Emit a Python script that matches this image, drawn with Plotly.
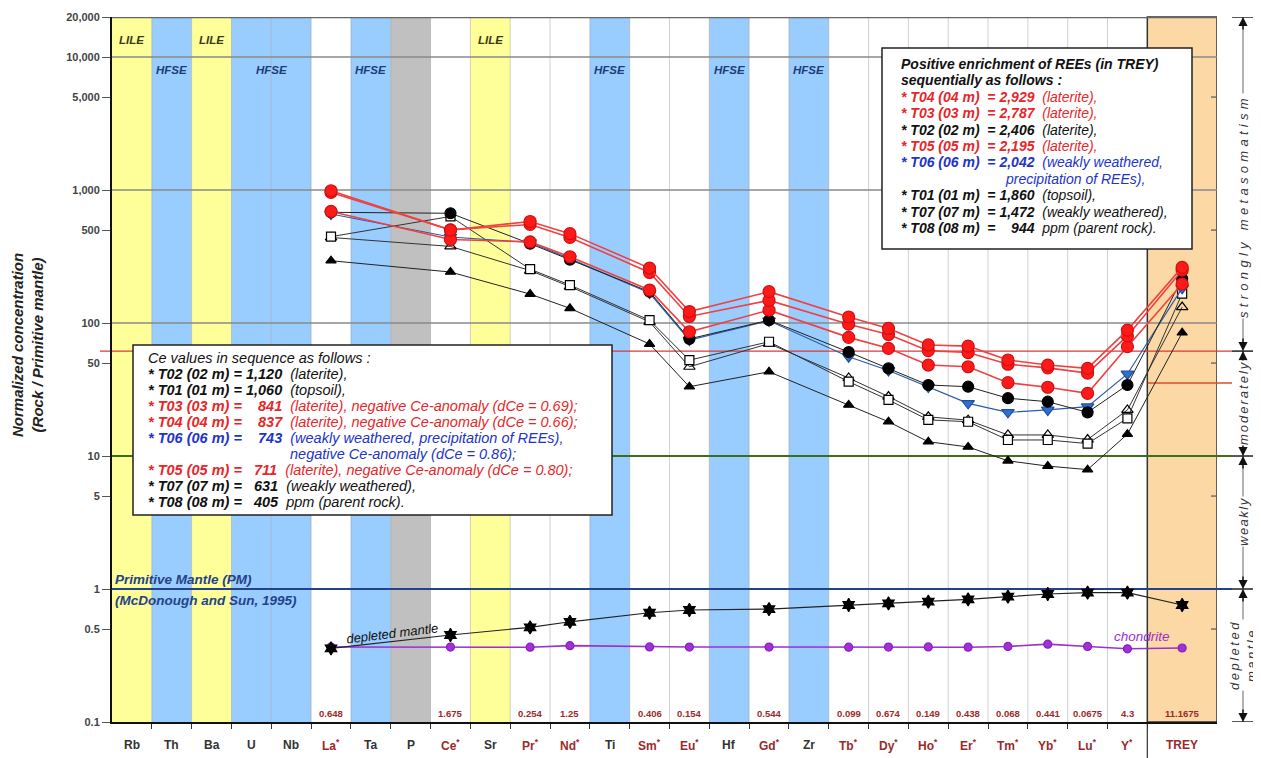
import numpy as np
import plotly.graph_objects as go

# ---------------- data ----------------
categories = ["Rb", "Th", "Ba", "U", "Nb", "La*", "Ta", "P", "Ce*", "Sr", "Pr*", "Nd*", "Ti",
              "Sm*", "Eu*", "Hf", "Gd*", "Zr", "Tb*", "Dy*", "Ho*", "Er*", "Tm*", "Yb*", "Lu*",
              "Y*", "TREY"]
col_kind = ["LILE", "HFSE", "LILE", "HFSE", "HFSE", "REE", "HFSE", "P", "REE", "LILE", "REE", "REE",
            "HFSE", "REE", "REE", "HFSE", "REE", "HFSE", "REE", "REE", "REE", "REE", "REE", "REE",
            "REE", "REE", "TOTAL"]
col_width = [1] * 26 + [1.75]

ree_labels = ["La*", "Ce*", "Pr*", "Nd*", "Sm*", "Eu*", "Gd*", "Tb*", "Dy*", "Ho*", "Er*", "Tm*",
              "Yb*", "Lu*", "Y*", "TREY"]
pm_norm = ["0.648", "1.675", "0.254", "1.25", "0.406", "0.154", "0.544", "0.099", "0.674", "0.149",
           "0.438", "0.068", "0.441", "0.0675", "4.3", "11.1675"]

# normalized (Rock / PM) values, order as ree_labels
T04 = [988, 500, 580, 470, 259, 122, 172, 111, 91, 68.4, 67, 52.7, 48.3, 45.6, 88.5, 262.3]
T03 = [960, 502, 551, 440, 240, 112, 148, 98, 82, 62, 60, 49, 46, 42, 80, 249.6]
T05 = [690, 424.5, 408, 315, 177, 86, 125, 78, 64.5, 48.3, 46.9, 35.6, 32.9, 29.6, 66.4, 196.6]
T02 = [680, 668.7, 395, 300, 172, 76, 105, 60.5, 45.6, 34.2, 33.2, 27.2, 25.6, 21.3, 34.2, 215.4]
T06 = [660, 443.6, 403, 305, 168, 74.5, 104, 55.8, 44, 33, 24.9, 21.3, 22.2, 23.5, 41.4, 182.9]
T01 = [446, 632.8, 254, 193, 105, 52.6, 72.3, 36.2, 26.4, 18.7, 18.1, 13.2, 13.2, 12.4, 19.2, 166.6]
T07 = [440, 376.7, 248, 188, 102, 46.9, 70, 38.6, 28, 19.7, 18.6, 14.4, 14.4, 13.3, 22.2, 131.8]
T08 = [294, 241.8, 165, 129, 69.5, 33.2, 43, 24.2, 18.1, 12.8, 11.7, 9.2, 8.4, 7.9, 14.6, 84.5]
depleted_mantle = [0.358, 0.451, 0.515, 0.567, 0.663, 0.695, 0.707, 0.758, 0.780, 0.803, 0.837,
                   0.875, 0.917, 0.938, 0.938, 0.758]
chondrite = [0.366, 0.366, 0.365, 0.375, 0.367, 0.366, 0.366, 0.365, 0.366, 0.367, 0.365, 0.37,
             0.385, 0.37, 0.355, 0.36]

y_tickvals = [0.1, 0.5, 1, 5, 10, 50, 100, 500, 1000, 5000, 10000, 20000]
y_ticktext = ["0.1", "0.5", "1", "5", "10", "50", "100", "500", "1,000", "5,000", "10,000", "20,000"]

zone_bounds = [20000, 61.5, 10, 1, 0.1]
moderate_low = 35.4

ce_box_lines = [
    ("|Ce values in sequence as follows :", "black", True),
    ("* T02 (02 m) = 1,120|  (laterite),", "black", True),
    ("* T01 (01 m) = 1,060|  (topsoil),", "black", True),
    ("* T03 (03 m) =    841|  (laterite), negative Ce-anomaly (dCe = 0.69);", "red", True),
    ("* T04 (04 m) =    837|  (laterite), negative Ce-anomaly (dCe = 0.66);", "red", True),
    ("* T06 (06 m) =    743|  (weakly weathered, precipitation of REEs),", "blue", True),
    ("|negative Ce-anomaly (dCe = 0.86);", "blue", "indent"),
    ("* T05 (05 m) =   711|  (laterite), negative Ce-anomaly (dCe = 0.80);", "red", True),
    ("* T07 (07 m) =   631|  (weakly weathered),", "black", True),
    ("* T08 (08 m) =   405|  ppm (parent rock).", "black", True),
]
trey_box_lines = [
    ("Positive enrichment of REEs (in TREY)|", "black", True),
    ("sequentially as follows :|", "black", True),
    ("* T04 (04 m)  = 2,929|  (laterite),", "red", True),
    ("* T03 (03 m)  = 2,787|  (laterite),", "red", True),
    ("* T02 (02 m)  = 2,406|  (laterite),", "black", True),
    ("* T05 (05 m)  = 2,195|  (laterite),", "red", True),
    ("* T06 (06 m)  = 2,042|  (weakly weathered,", "blue", True),
    ("|precipitation of REEs),", "blue", "indent"),
    ("* T01 (01 m)  = 1,860|  (topsoil),", "black", True),
    ("* T07 (07 m)  = 1,472|  (weakly weathered),", "black", True),
    ("* T08 (08 m)  =    944|  ppm (parent rock).", "black", True),
]

zone_text = ["strongly metasomatism", "moderately", "weakly", "depleted<br>mantle"]

# ---------------- styling ----------------
OFF = 8                      # page body margin
W, H = 1261 - OFF, 758 - OFF
L, R, T, B = 112, 1217, 17, 722   # plot-area edges in screenshot pixels
FONT = "Arial, Liberation Sans, sans-serif"
TXT = {"black": "#111111", "red": "#E8262A", "blue": "#2233C8"}
fills = {"LILE": "#FFFF99", "HFSE": "#99CCFF", "P": "#C0C0C0", "REE": None, "TOTAL": "#FBD8A4"}


def px(x):
    return (x - L) / (R - L)


def py(y):
    return (B - y) / (B - T)


edges = np.concatenate([[-0.5], -0.5 + np.cumsum(col_width)])
centers = (edges[:-1] + edges[1:]) / 2
cat_x = dict(zip(categories, centers))
ree_x = [cat_x[c] for c in ree_labels]

fig = go.Figure()
shapes = []
ann = []

# column backgrounds
for i, k in enumerate(col_kind):
    if fills[k]:
        shapes.append(dict(type="rect", xref="x", yref="paper", x0=edges[i], x1=edges[i + 1], y0=0, y1=1,
                           fillcolor=fills[k], line=dict(width=0), layer="below"))
# vertical grid lines at column boundaries
for e in edges[1:-2]:
    shapes.append(dict(type="line", xref="x", yref="paper", x0=e, x1=e, y0=0, y1=1,
                       line=dict(color="rgba(150,150,150,0.45)", width=1), layer="below"))
# TREY column frame
shapes.append(dict(type="rect", xref="x", yref="paper", x0=edges[-2], x1=edges[-1], y0=0, y1=1,
                   fillcolor="rgba(0,0,0,0)", line=dict(color="#333", width=1.5), layer="below"))
shapes.append(dict(type="line", xref="x", yref="paper", x0=edges[-2], x1=edges[-2], y0=0, y1=py(758),
                   line=dict(color="#333", width=1.2), layer="below"))
# horizontal grid lines
for v in [10000, 1000, 100]:
    shapes.append(dict(type="line", xref="paper", yref="y", x0=0, x1=1, y0=v, y1=v,
                       line=dict(color="#8a8a8a", width=1.6), layer="below"))
shapes.append(dict(type="line", xref="paper", yref="y", x0=0, x1=1, y0=20000, y1=20000,
                   line=dict(color="#666", width=2.5), layer="below"))
# small inner ticks on the right frame
for v in [5000, 500, 50, 5, 0.5]:
    shapes.append(dict(type="line", xref="paper", yref="y", x0=px(1211), x1=1, y0=v, y1=v,
                       line=dict(color="#555", width=1.2), layer="below"))
# zone reference lines
shapes.append(dict(type="line", xref="paper", yref="y", x0=px(100), x1=px(1232), y0=zone_bounds[1],
                   y1=zone_bounds[1], line=dict(color="#D83A3A", width=1.3), layer="below"))
shapes.append(dict(type="line", xref="paper", yref="y", x0=px(1148), x1=px(1232), y0=moderate_low,
                   y1=moderate_low, line=dict(color="#D8502A", width=1.3), layer="below"))
shapes.append(dict(type="line", xref="paper", yref="y", x0=0, x1=px(1232), y0=zone_bounds[2],
                   y1=zone_bounds[2], line=dict(color="#3C6E1E", width=2.2), layer="below"))
shapes.append(dict(type="line", xref="paper", yref="y", x0=0, x1=px(1232), y0=zone_bounds[3],
                   y1=zone_bounds[3], line=dict(color="#24428A", width=2.2), layer="below"))
# text boxes
shapes.append(dict(type="rect", xref="paper", yref="paper", x0=px(133), x1=px(612), y0=py(515), y1=py(345),
                   fillcolor="white", line=dict(color="#222", width=1.5), layer="below"))
shapes.append(dict(type="rect", xref="paper", yref="paper", x0=px(882), x1=px(1192), y0=py(249), y1=py(48),
                   fillcolor="white", line=dict(color="#222", width=1.5), layer="below"))

# ---------------- traces ----------------
def add_series(vals, lcolor, lw, symbol, size, mfill, mline):
    fig.add_trace(go.Scatter(x=ree_x, y=vals, mode="lines+markers",
                             line=dict(color=lcolor, width=lw),
                             marker=dict(symbol=symbol, size=size, color=mfill,
                                         line=dict(color=mline, width=1.2)),
                             hoverinfo="skip", showlegend=False))


add_series(chondrite, "#9B30D0", 1.6, "circle", 8, "#A030D8", "#8A20C0")
add_series(depleted_mantle, "#222", 1.2, "hexagram", 10, "#000", "#000")
add_series(T08, "#222", 1.0, "triangle-up", 9, "#000", "#000")
add_series(T07, "#333", 1.0, "triangle-up-open", 10, "#000", "#000")
add_series(T01, "#333", 1.0, "square", 9, "white", "#000")
add_series(T06, "#2B5BA8", 1.2, "triangle-down", 11, "#2E6FD0", "#1E4FA0")
add_series(T02, "#222", 1.0, "circle", 11, "#000", "#000")
add_series(T05, "#F04040", 1.6, "circle", 12, "#FF1A1A", "#D01010")
add_series(T03, "#F04040", 1.6, "circle", 12, "#FF1A1A", "#D01010")
add_series(T04, "#F04040", 1.6, "circle", 12, "#FF1A1A", "#D01010")

# ---------------- annotations ----------------
def a(x, y, text, size=11, color="#111", xanchor="center", yanchor="middle", angle=0, bg=None,
      xref="paper", yref="paper"):
    d = dict(x=x, y=y, xref=xref, yref=yref, text=text, showarrow=False, xanchor=xanchor,
             yanchor=yanchor, textangle=angle, font=dict(family=FONT, size=size, color=color))
    if bg:
        d["bgcolor"] = bg
        d["borderpad"] = 0
    ann.append(d)


# category labels
for c, k, xc in zip(categories, col_kind, centers):
    lab = c.replace("*", "<sup>*</sup>")
    col = "#9B2A2A" if k in ("REE", "TOTAL") else "#333"
    a(xc, py(745), "<b>" + lab + "</b>", size=12, color=col, xref="x")
# PM normalizing values
for c, v in zip(ree_labels, pm_norm):
    a(cat_x[c], py(713), "<b>" + v + "</b>", size=9.5, color="#9B2A2A", xref="x")

# LILE / HFSE labels
top_labels = [("LILE", ["Rb"], 40), ("LILE", ["Ba"], 40), ("LILE", ["Sr"], 40),
              ("HFSE", ["Th"], 70), ("HFSE", ["U", "Nb"], 70), ("HFSE", ["Ta"], 70),
              ("HFSE", ["Ti"], 70), ("HFSE", ["Hf"], 70), ("HFSE", ["Zr"], 70)]
for txt, cols, yy in top_labels:
    xc = np.mean([cat_x[c] for c in cols])
    a(xc, py(yy), "<b><i>" + txt + "</i></b>", size=11.5,
      color="#3A3A10" if txt == "LILE" else "#1C3C78", xref="x")


def box_text(lines, x0, y0, dy, indent_x, size):
    for j, (s, cname, bold) in enumerate(lines):
        head, _, tail = s.partition("|")
        head = head.replace(" ", "\u00a0")
        tail = tail.replace(" ", "\u00a0")
        if bold == "indent":
            t = "<i>" + tail + "</i>"
        else:
            t = ("<b><i>" + head + "</i></b>" if head else "") + ("<i>" + tail + "</i>" if tail else "")
        xx = indent_x if bold == "indent" else x0
        a(px(xx), py(y0 + j * dy), t, size=size, color=TXT[cname], xanchor="left")


box_text(ce_box_lines, 146, 358, 16.0, 288, 14.5)
box_text(trey_box_lines, 899, 64, 16.4, 1003, 14)

# y axis title
a(px(27), py(345), "<b><i>Normalized concentration</i></b><br><b><i>(Rock / Primitive mantle)</i></b>",
  size=15, color="#222", angle=-90)

# PM labels
a(px(113), py(579), "<b><i>Primitive Mantle (PM)</i></b>", size=13.5, color="#24428A", xanchor="left")
a(px(113), py(600), "<b><i>(McDonough and Sun, 1995)</i></b>", size=13.5, color="#24428A", xanchor="left")
a(px(392), py(633), "<i>depleted mantle</i>", size=13, color="#111", angle=-7)
a(px(1142), py(636), "<i>chondrite</i>", size=13.5, color="#9B30D0")

# right-hand zone scale
xz = px(1243)
shapes.append(dict(type="line", xref="paper", yref="paper", x0=xz, x1=xz, y0=0, y1=1,
                   line=dict(color="#9a9a9a", width=1.5)))
for v in zone_bounds:
    shapes.append(dict(type="line", xref="paper", yref="y", x0=px(1232), x1=px(1255), y0=v, y1=v,
                       line=dict(color="#222", width=1.5)))
    for dirn in (-1, 1):
        if (v == zone_bounds[0] and dirn == -1) or (v == zone_bounds[-1] and dirn == 1):
            continue
        ann.append(dict(x=xz, y=np.log10(v), xref="paper", yref="y", text="", showarrow=True,
                        ax=0, ay=dirn * 14, arrowhead=2, arrowsize=1.3, arrowwidth=1.4,
                        arrowcolor="#111", standoff=0))
zone_y = [206, 403, 522, 655]
zone_spacing = [4.3, 2, 1.5, 2.5]
for t, yy, sp in zip(zone_text, zone_y, zone_spacing):
    a(xz, py(yy), '<span style="letter-spacing:%spx"><i>%s</i></span>' % (sp, t), size=13,
      color="#333", angle=-90, bg="white")

fig.update_layout(
    width=W, height=H,
    margin=dict(l=L - OFF, r=W - (R - OFF), t=T - OFF, b=H - (B - OFF), autoexpand=False),
    paper_bgcolor="white", plot_bgcolor="white",
    shapes=shapes, annotations=ann, showlegend=False,
    font=dict(family=FONT),
    xaxis=dict(range=[edges[0], edges[-1]], showgrid=False, zeroline=False,
               tickmode="array", tickvals=list(edges[1:-1]), showticklabels=False,
               ticks="outside", ticklen=5, tickcolor="#333", tickwidth=1.3,
               showline=True, linecolor="#111", linewidth=2),
    yaxis=dict(type="log", range=[-1, np.log10(20000)], showgrid=False, zeroline=False,
               tickmode="array", tickvals=y_tickvals, ticktext=["<b>" + t + "</b>" for t in y_ticktext],
               tickfont=dict(size=11, color="#444", family=FONT),
               ticks="outside", ticklen=8, tickcolor="#555", tickwidth=1.3,
               showline=True, linecolor="#111", linewidth=2),
)

fig.write_html("out.html")
